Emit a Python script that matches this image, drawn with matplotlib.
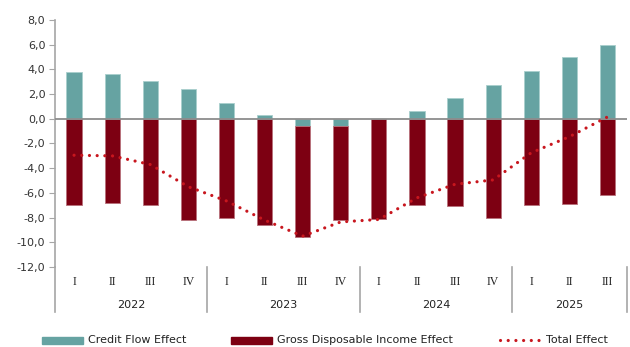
import numpy as np
import matplotlib
matplotlib.use("Agg")
import matplotlib.pyplot as plt
from matplotlib.patches import Rectangle
from matplotlib.lines import Line2D

years = ["2022", "2023", "2024", "2025"]
quarters = ["I", "II", "III", "IV",
            "I", "II", "III", "IV",
            "I", "II", "III", "IV",
            "I", "II", "III"]
credit_flow = [3.8, 3.6, 3.05, 2.45,
               1.3, 0.3, -0.55, -0.6,
               0.0, 0.6, 1.7, 2.7,
               3.85, 5.0, 5.95]
gross_income = [-7.0, -6.85, -7.0, -8.2,
                -8.05, -8.6, -9.05, -7.6,
                -8.1, -7.0, -7.1, -8.0,
                -7.0, -6.9, -6.15]
total_effect = [-2.95, -3.0, -3.7, -5.5,
                -6.65, -8.2, -9.5, -8.35,
                -8.15, -6.4, -5.3, -4.95,
                -2.75, -1.45, 0.15]
quarters_per_year = [4, 4, 4, 3]

teal = "#66a3a2"
darkred = "#7d0012"
linered = "#c8161e"
gray = "#a6a6a6"

fig = plt.figure(figsize=(6.3, 3.47), dpi=100)
ax = fig.add_axes([55 / 630, 1 - 267 / 347, (626.5 - 55) / 630, (267 - 20) / 347])

x = np.arange(len(quarters))
cf = np.array(credit_flow)
gi = np.array(gross_income)
# stacking: red goes below the teal bar when teal is negative
gi_base = np.where(cf < 0, cf, 0)

ax.bar(x, cf, width=0.4, color=teal, edgecolor="#a9cfcd", linewidth=0.6, zorder=2)
ax.bar(x, gi, bottom=gi_base, width=0.4, color=darkred, edgecolor="#b8707a", linewidth=0.6, zorder=2)
ax.plot(x, total_effect, color=linered, linewidth=2.3, linestyle=(0, (0.01, 2.4)),
        dash_capstyle="round", zorder=4)

ax.axhline(0, color="#8c8c8c", linewidth=1.3, zorder=3)

ax.set_xlim(-0.5, len(quarters) - 0.5)
ax.set_ylim(-12, 8)
ticks = np.arange(-12, 8.1, 2)
ax.set_yticks(ticks)
ax.set_yticklabels([("%.1f" % t).replace(".", ",") for t in ticks],
                   fontsize=8, color="#333333")
ax.set_xticks([])
ax.tick_params(axis="y", length=4, width=0.8, color=gray, pad=3)
for s in ["top", "right", "bottom"]:
    ax.spines[s].set_visible(False)
ax.spines["left"].set_color(gray)
ax.spines["left"].set_linewidth(1.2)

# category labels below the plot
trans = ax.get_xaxis_transform()
px = 1 / 247  # one pixel in axes height units
for i, q in enumerate(quarters):
    ax.text(i, -(281.7 - 267) * px, q, transform=trans, ha="center", va="center",
            fontsize=8.5, family="Liberation Serif", color="#222222")
start = 0
bounds = [-0.5]
for y, n in zip(years, quarters_per_year):
    mid = start + (n - 1) / 2
    ax.text(mid, -(305 - 267) * px, y, transform=trans, ha="center", va="center",
            fontsize=8, color="#222222")
    start += n
    bounds.append(start - 0.5)
for b in bounds:
    ax.plot([b, b], [0, -(311.7 - 267) * px], transform=trans, color=gray,
            linewidth=1.2, clip_on=False)

# legend
ly = 1 - 340 / 347
fig.patches.append(Rectangle((42 / 630, ly - 3.5 / 347), 41 / 630, 7 / 347,
                             transform=fig.transFigure, color=teal))
fig.text(88 / 630, ly, "Credit Flow Effect", fontsize=8, va="center", color="#222222")
fig.patches.append(Rectangle((231 / 630, ly - 3.5 / 347), 41 / 630, 7 / 347,
                             transform=fig.transFigure, color=darkred))
fig.text(277 / 630, ly, "Gross Disposable Income Effect", fontsize=8, va="center", color="#222222")
fig.lines.append(Line2D([500 / 630, 541 / 630], [ly, ly], transform=fig.transFigure,
                        color=linered, linewidth=2.3, linestyle=(0, (0.01, 2.4)),
                        dash_capstyle="round"))
fig.text(546 / 630, ly, "Total Effect", fontsize=8, va="center", color="#222222")

fig.savefig("out.png", dpi=100)
